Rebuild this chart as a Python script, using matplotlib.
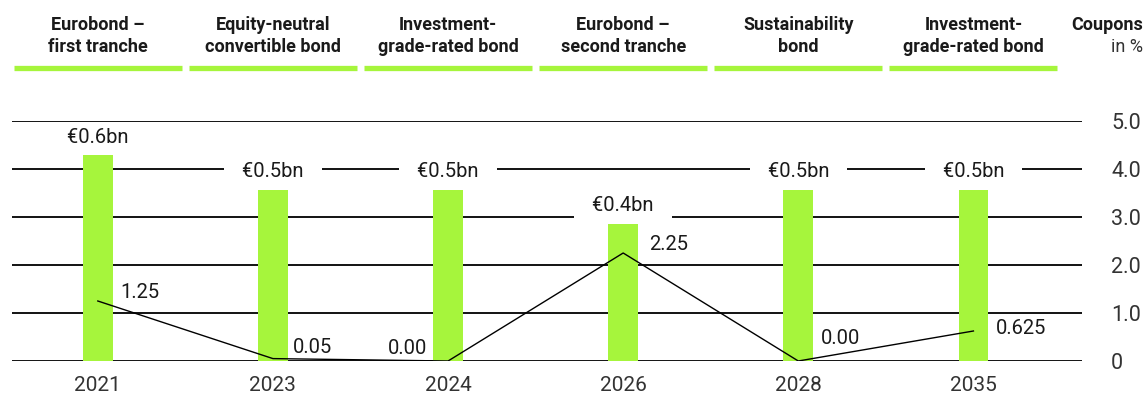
import matplotlib
matplotlib.use("Agg")
import matplotlib.pyplot as plt
from matplotlib.transforms import blended_transform_factory

plt.rcParams['font.family'] = ['Roboto', 'DejaVu Sans']

years = ["2021", "2023", "2024", "2026", "2028", "2035"]
bond_types = ["Eurobond –\nfirst tranche", "Equity-neutral\nconvertible bond",
              "Investment-\ngrade-rated bond", "Eurobond –\nsecond tranche",
              "Sustainability\nbond", "Investment-\ngrade-rated bond"]
volume_bn = [0.6, 0.5, 0.5, 0.4, 0.5, 0.5]
coupons = [1.25, 0.05, 0.00, 2.25, 0.00, 0.625]
coupon_labels = ["1.25", "0.05", "0.00", "2.25", "0.00", "0.625"]
coupon_ticks = [0, 1, 2, 3, 4, 5]
coupon_tick_labels = ["0", "1.0", "2.0", "3.0", "4.0", "5.0"]

GREEN = "#a6f53c"
INK = "#1a1a1a"
GREY = "#333333"

fig = plt.figure(figsize=(11.46, 3.98), dpi=100)
ax = fig.add_axes([12 / 1146, 1 - 361 / 398, 1070 / 1146, 240 / 398])
ax2 = ax.twinx()

x = list(range(len(years)))

# coupon axis (front): line, labels, right-hand ticks
ax.set_xlim(-0.49, 5.62)
ax.set_ylim(0, 5)
ax.set_yticks(coupon_ticks)
ax.set_yticklabels(coupon_tick_labels)
ax.yaxis.tick_right()
ax.tick_params(axis="y", length=0, pad=21, labelsize=15.5, labelcolor=GREY)
ax.set_xticks(x)
ax.set_xticklabels(years)
ax.tick_params(axis="x", length=0, pad=11, labelsize=15, labelcolor=GREY)
for s in ax.spines.values():
    s.set_visible(False)

# volume axis (back): gridlines at coupon values, then bars over them
ax2.set_ylim(0, 0.7)
ax2.set_yticks([])
for s in ax2.spines.values():
    s.set_visible(False)
grid_tr = blended_transform_factory(ax2.transAxes, ax.transData)
for t in coupon_ticks:
    ax2.plot([0, 1], [t, t], transform=grid_tr, color="black", lw=1.3, zorder=1)
ax2.bar(x, volume_bn, width=0.17, color=GREEN, zorder=2)

ax.set_zorder(ax2.get_zorder() + 1)
ax.patch.set_visible(False)

# volume labels sit in the front axes so their white box cuts the gridlines
for xi, v in zip(x, volume_bn):
    ax.annotate("   €%.1fbn   " % v, (xi, v), xycoords=ax2.transData,
                xytext=(0, 13), textcoords="offset points",
                ha="center", va="center", fontsize=14.5, color=INK, zorder=4,
                bbox=dict(boxstyle="square,pad=0.15", fc="white", ec="none"))

ax.plot(x, coupons, color="black", lw=1.0, zorder=5)
offsets = [(16, 6), (14, 8), (-15, 9), (19, 6), (16, 16), (16, 2)]
for xi, c, lab, off in zip(x, coupons, coupon_labels, offsets):
    ax.annotate(lab, (xi, c), xytext=off, textcoords="offset points",
                ha="left" if off[0] > 0 else "right", va="center",
                fontsize=14.5, color=INK, zorder=6)

# column headers with green underline
hdr = ax.get_xaxis_transform()
for xi, name in zip(x, bond_types):
    ax.text(xi, 1.354, name, transform=hdr, ha="center", va="center",
            fontsize=13, fontweight="bold", color=INK, linespacing=1.25)
    ax.plot([xi - 0.48, xi + 0.48], [1.219, 1.219], transform=hdr,
            color=GREEN, lw=3.8, solid_capstyle="butt", clip_on=False)

fig.text(1143 / 1146, 1 - 25 / 398, "Coupons", ha="right", va="center",
         fontsize=13, fontweight="bold", color=INK)
fig.text(1143 / 1146, 1 - 47 / 398, "in %", ha="right", va="center",
         fontsize=13, color=GREY)

fig.savefig("out.png", dpi=100)
